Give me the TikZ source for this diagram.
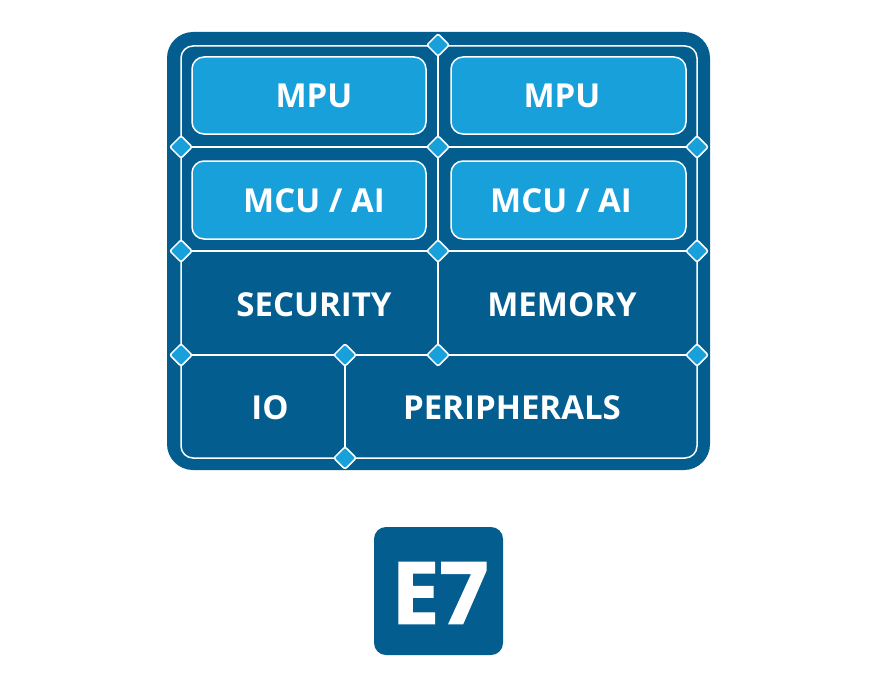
\documentclass[tikz,border=0pt]{standalone}
\usepackage{fontspec}
\setmainfont{Open Sans}
\newfontfamily\logofont[BoldFeatures={FakeBold=1.6}]{Open Sans}
\usetikzlibrary{shapes.geometric}
\definecolor{boardblue}{HTML}{035D8F}
\definecolor{coreblue}{HTML}{18A0DB}

\begin{document}
\begin{tikzpicture}[x=1pt, y=-1pt,
	lbl/.style={text=white, inner sep=0pt, font=\bfseries\fontsize{33}{33}\selectfont},
	core/.style={fill=coreblue, draw=white, line width=1.5pt, rounded corners=12pt},
	joint/.style={diamond, fill=coreblue, draw=white, line width=1.5pt, inner sep=0pt,
		minimum size=23pt, rounded corners=2pt},
	grid/.style={white, line width=1.5pt}]
	\useasboundingbox (0,0) rectangle (877,682);
	% board
	\fill[boardblue, rounded corners=26pt] (167,32) rectangle (710,470);
	% grid points
	\coordinate (t1) at (438,45);
	\coordinate (a0) at (181,147);
	\coordinate (a1) at (438,147);
	\coordinate (a2) at (697,147);
	\coordinate (b0) at (181,251);
	\coordinate (b1) at (438,251);
	\coordinate (b2) at (697,251);
	\coordinate (c0) at (181,355);
	\coordinate (c1) at (345,355);
	\coordinate (c2) at (438,355);
	\coordinate (c3) at (697,355);
	\coordinate (d1) at (345,458);
	% grid
	\draw[grid, rounded corners=12pt] (181,46) rectangle (697,458);
	\draw[grid] (a0) -- (a1) -- (a2);
	\draw[grid] (b0) -- (b1) -- (b2);
	\draw[grid] (c0) -- (c1) -- (c2) -- (c3);
	\draw[grid] (t1) -- (a1) -- (b1) -- (c2);
	\draw[grid] (c1) -- (d1);
	% cores
	\draw[core] (192,57) rectangle (426,134);
	\draw[core] (451,57) rectangle (686,134);
	\draw[core] (192,161) rectangle (426,239);
	\draw[core] (451,161) rectangle (686,239);
	% joints
	\foreach \p in {t1,a0,a1,a2,b0,b1,b2,c0,c1,c2,c3,d1}
		\node[joint] (j\p) at (\p) {};
	% labels
	\node[lbl] (mpu1) at (314,96) {MPU};
	\node[lbl] (mpu2) at (562,96) {MPU};
	\node[lbl] (mcu1) at (314,201) {MCU / AI};
	\node[lbl] (mcu2) at (561,201) {MCU / AI};
	\node[lbl] (sec) at (314,305) {SECURITY};
	\node[lbl] (mem) at (562,305) {MEMORY};
	\node[lbl] (io) at (270,408) {IO};
	\node[lbl] (per) at (512,408) {PERIPHERALS};
	% logo
	\fill[boardblue, rounded corners=12pt] (374,527) rectangle (503,655);
	\node[text=white, inner sep=0pt, font=\logofont\bfseries\fontsize{86}{86}\selectfont] (e7) at (440,593) {E7};
\end{tikzpicture}
\end{document}
